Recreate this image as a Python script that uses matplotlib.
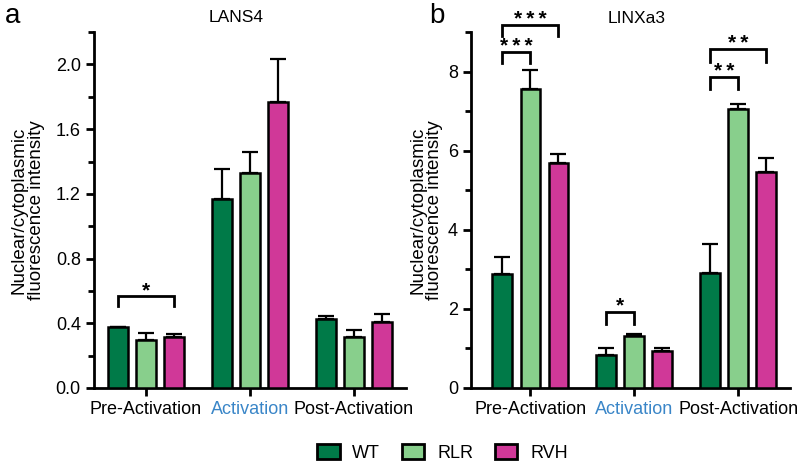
import matplotlib
matplotlib.use("Agg")
import matplotlib.pyplot as plt
import numpy as np
from matplotlib.ticker import MultipleLocator
from matplotlib.patches import Patch

plt.rcParams['font.family'] = ['Liberation Sans', 'DejaVu Sans']

categories = ["Pre-Activation", "Activation", "Post-Activation"]
groups = ["WT", "RLR", "RVH"]
colors = ["#007A48", "#88CF8C", "#D03898"]

lans4_mean = {"WT": [0.378, 1.171, 0.426], "RLR": [0.294, 1.331, 0.313], "RVH": [0.315, 1.767, 0.407]}
lans4_err = {"WT": [0.0, 0.18, 0.018], "RLR": [0.045, 0.128, 0.047], "RVH": [0.018, 0.266, 0.048]}
linx_mean = {"WT": [2.88, 0.83, 2.91], "RLR": [7.56, 1.31, 7.05], "RVH": [5.70, 0.92, 5.46]}
linx_err = {"WT": [0.43, 0.17, 0.74], "RLR": [0.49, 0.06, 0.15], "RVH": [0.21, 0.08, 0.35]}

# brackets: (category index, group i, group j, top y, leg y, label)
lans4_sig = [(0, 0, 2, 0.568, 0.508, "*")]
linx_sig = [(0, 0, 1, 8.50, 8.23, "*\u2009*\u2009*"), (0, 0, 2, 9.20, 8.90, "*\u2009*\u2009*"),
            (1, 0, 1, 1.93, 1.62, "*"),
            (2, 0, 1, 7.87, 7.57, "*\u2009*"), (2, 0, 2, 8.57, 8.26, "*\u2009*")]

FS = 13

fig = plt.figure(figsize=(8, 4.65), dpi=100)
ax_a = fig.add_axes([0.1175, 0.1656, 0.39, 0.7654])
ax_b = fig.add_axes([0.589, 0.1662, 0.3985, 0.764])

offsets = [-0.27, 0.0, 0.27]
width = 0.19

def draw(ax, means, errs, sigs, ylim, major, minor, fmt, title, xlim, title_x):
    x = np.arange(len(categories))
    for k, g in enumerate(groups):
        xs = x + offsets[k]
        ax.bar(xs, means[g], width, color=colors[k], edgecolor="black", linewidth=1.8, zorder=3)
        e = np.array(errs[g])
        ax.errorbar(xs, means[g], yerr=[np.zeros_like(e), e], fmt="none", ecolor="black",
                    elinewidth=1.6, capsize=5.5, capthick=1.6, zorder=2)
    for c, i, j, top, leg, lab in sigs:
        x1 = c + offsets[i]
        x2 = c + offsets[j]
        ax.plot([x1, x1, x2, x2], [leg, top, top, leg], color="black", lw=2,
                clip_on=False, zorder=4, solid_joinstyle="miter")
        ax.text((x1 + x2) / 2, top, lab, ha="center", va="baseline",
                fontsize=15, fontweight="bold", clip_on=False)
    ax.set_xlim(*xlim)
    ax.set_ylim(*ylim)
    ax.yaxis.set_major_locator(MultipleLocator(major))
    ax.yaxis.set_minor_locator(MultipleLocator(minor))
    ax.yaxis.set_major_formatter(plt.FormatStrFormatter(fmt))
    ax.set_xticks(x)
    ax.set_xticklabels(categories, fontsize=FS)
    ax.get_xticklabels()[1].set_color("#3A86C8")
    for s in ["top", "right"]:
        ax.spines[s].set_visible(False)
    for s in ["left", "bottom"]:
        ax.spines[s].set_linewidth(2)
    ax.tick_params(axis="both", which="major", direction="out", width=2, length=6, labelsize=FS)
    ax.tick_params(axis="y", which="minor", direction="out", width=2, length=4)
    ax.set_ylabel("Nuclear/cytoplasmic\nfluorescence intensity", fontsize=13.5, linespacing=1.0)
    ax.set_title(title, fontsize=12.5, pad=7, x=title_x)

draw(ax_a, lans4_mean, lans4_err, lans4_sig, (0, 2.2), 0.4, 0.2, "%.1f", "LANS4", (-0.5, 2.5), 0.455)
draw(ax_b, linx_mean, linx_err, linx_sig, (0, 9), 2, 1, "%d", "LINXa3", (-0.57, 2.5), 0.52)
ax_a.yaxis.set_label_coords(-0.158, 0.5)
ax_b.yaxis.set_label_coords(-0.088, 0.5)

fig.text(0.006, 0.965, "a", fontsize=20, va="center", ha="left")
fig.text(0.537, 0.965, "b", fontsize=20, va="center", ha="left")

handles = [Patch(facecolor=colors[k], edgecolor="black", linewidth=2, label=g) for k, g in enumerate(groups)]
fig.legend(handles=handles, loc="center", bbox_to_anchor=(0.553, 0.026), ncol=3, frameon=False,
           fontsize=FS, handlelength=1.25, handleheight=0.85, columnspacing=1.2, handletextpad=0.7)

fig.savefig("out.png", dpi=100)
